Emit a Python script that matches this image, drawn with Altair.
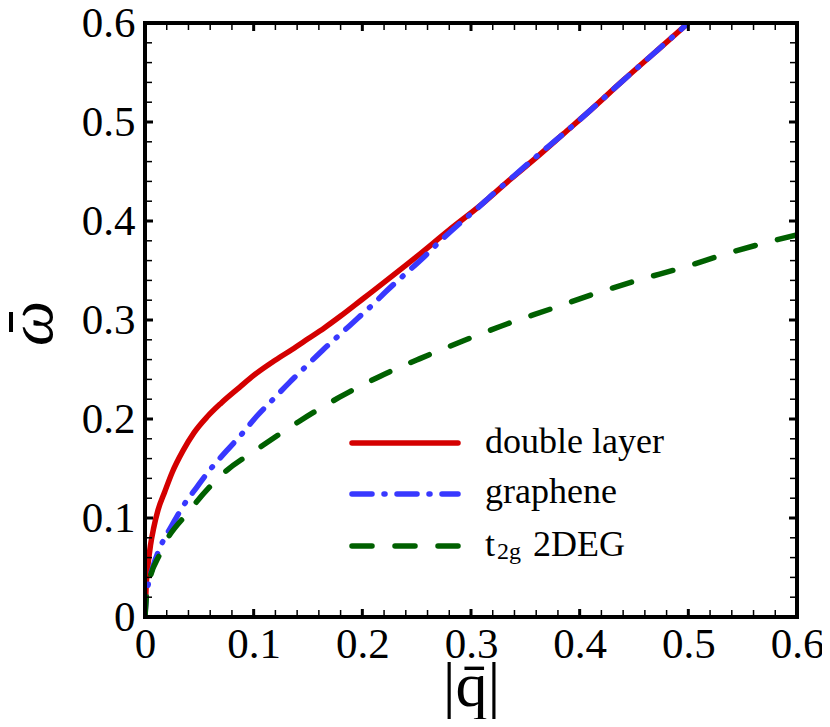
import altair as alt
import pandas as pd

# ---- data ----
red_x = [0, 0.001, 0.003, 0.005, 0.008, 0.012, 0.018, 0.025, 0.035, 0.045, 0.057, 0.07, 0.087, 0.1,
         0.118, 0.135, 0.15, 0.165, 0.18, 0.2, 0.22, 0.25, 0.28, 0.31, 0.335, 0.36, 0.385, 0.41,
         0.44, 0.47, 0.5]
red_y = [0, 0.03, 0.055, 0.072, 0.09, 0.108, 0.126, 0.146, 0.168, 0.186, 0.202, 0.216, 0.232, 0.244,
         0.258, 0.27, 0.281, 0.292, 0.304, 0.321, 0.338, 0.364, 0.391, 0.417, 0.441, 0.464, 0.488,
         0.512, 0.542, 0.571, 0.6]

blue_x = [0, 0.001, 0.003, 0.0077, 0.015, 0.0245, 0.035, 0.0476, 0.06, 0.0752, 0.09, 0.103, 0.118,
          0.133, 0.148, 0.163, 0.18, 0.195, 0.21, 0.222, 0.24, 0.256, 0.272, 0.288, 0.305, 0.32,
          0.34, 0.36, 0.385, 0.41, 0.44, 0.47, 0.5]
blue_y = [0, 0.019, 0.033, 0.052, 0.073, 0.092, 0.112, 0.131, 0.149, 0.168, 0.186, 0.203, 0.22,
          0.237, 0.253, 0.269, 0.286, 0.301, 0.316, 0.329, 0.347, 0.363, 0.38, 0.396, 0.412, 0.427,
          0.446, 0.465, 0.488, 0.512, 0.542, 0.571, 0.6]

green_x = [0, 0.001, 0.003, 0.0138, 0.0414, 0.072, 0.104, 0.141, 0.179, 0.216, 0.253, 0.293, 0.333,
           0.373, 0.4125, 0.453, 0.495, 0.535, 0.578, 0.6]
green_y = [0, 0.017, 0.031, 0.064, 0.108, 0.145, 0.17, 0.197, 0.222, 0.243, 0.261, 0.279, 0.296,
           0.311, 0.326, 0.34, 0.353, 0.367, 0.38, 0.386]

major_ticks = [0, 0.1, 0.2, 0.3, 0.4, 0.5, 0.6]
minor_ticks = [round(i * 0.02, 2) for i in range(31) if i % 5 != 0]

legend_labels = ["double layer", "graphene", "t"]
legend_sub = "2g"
legend_tail = "2DEG"

W, H = 652, 594
FONT = "Liberation Serif"
RED, BLUE, GREEN = "#d40000", "#3838ff", "#006000"

xscale = alt.Scale(domain=[0, 0.6], nice=False, zero=False)
yscale = alt.Scale(domain=[0, 0.6], nice=False, zero=False)

x_axis = alt.Axis(values=major_ticks, format="~g", labelFlush=False, labelPadding=6,
                  labelFont=FONT, labelFontSize=43, labelColor="black",
                  ticks=False, domain=False, grid=False,
                  title="|q\u0304|", titleFontSize=64, titleFont=FONT, titleFontWeight="normal",
                  titleColor="black",
                  titleX=W / 2, titleY=88, titleAlign="center", titleBaseline="alphabetic")
y_axis = alt.Axis(values=major_ticks, format="~g", labelFlush=False, labelPadding=10,
                  labelFont=FONT, labelFontSize=43, labelColor="black",
                  ticks=False, domain=False, grid=False,
                  title="\u03c9", titleFontSize=64, titleFont=FONT, titleFontStyle="italic",
                  titleFontWeight="normal", titleColor="black", titleAngle=270, titleX=-113,
                  titleY=300, titleAlign="center", titleBaseline="middle")


def series_df(xs, ys):
    return pd.DataFrame({"x": xs, "y": ys})


base_red = alt.Chart(series_df(red_x, red_y)).mark_line(
    color=RED, strokeWidth=5.5, strokeCap="round", interpolate="monotone", clip=True
).encode(
    x=alt.X("x:Q", scale=xscale, axis=x_axis),
    y=alt.Y("y:Q", scale=yscale, axis=y_axis),
)

blue_line = alt.Chart(series_df(blue_x, blue_y)).mark_line(
    color=BLUE, strokeWidth=5.5, strokeCap="round", strokeDash=[20, 12, 1, 12],
    interpolate="monotone", clip=True
).encode(x="x:Q", y="y:Q")

green_line = alt.Chart(series_df(green_x, green_y)).mark_line(
    color=GREEN, strokeWidth=5.5, strokeCap="round", strokeDash=[20, 23],
    interpolate="monotone", clip=True
).encode(x="x:Q", y="y:Q")

# ---- inward ticks on all four sides ----
majx = pd.DataFrame({"x": major_ticks})
minx = pd.DataFrame({"x": minor_ticks})
majy = pd.DataFrame({"y": major_ticks})
miny = pd.DataFrame({"y": minor_ticks})

tick_layers = []
for d, w, L in [(majx, 3, 8), (minx, 1.5, 7)]:
    tick_layers.append(alt.Chart(d).mark_rule(color="black", strokeWidth=w).encode(
        x="x:Q", y=alt.value(H), y2=alt.value(H - L)))
    tick_layers.append(alt.Chart(d).mark_rule(color="black", strokeWidth=w).encode(
        x="x:Q", y=alt.value(0), y2=alt.value(L)))
for d, w, L in [(majy, 3, 8), (miny, 1.5, 7)]:
    tick_layers.append(alt.Chart(d).mark_rule(color="black", strokeWidth=w).encode(
        y="y:Q", x=alt.value(0), x2=alt.value(L)))
    tick_layers.append(alt.Chart(d).mark_rule(color="black", strokeWidth=w).encode(
        y="y:Q", x=alt.value(W), x2=alt.value(W - L)))

# ---- frame ----
one = pd.DataFrame({"k": [0]})
frame = [
    alt.Chart(one).mark_rule(color="black", strokeWidth=4, strokeCap="square").encode(
        x=alt.value(0), x2=alt.value(W), y=alt.value(0)),
    alt.Chart(one).mark_rule(color="black", strokeWidth=4, strokeCap="square").encode(
        x=alt.value(0), x2=alt.value(W), y=alt.value(H)),
    alt.Chart(one).mark_rule(color="black", strokeWidth=4, strokeCap="square").encode(
        y=alt.value(0), y2=alt.value(H), x=alt.value(0)),
    alt.Chart(one).mark_rule(color="black", strokeWidth=4, strokeCap="square").encode(
        y=alt.value(0), y2=alt.value(H), x=alt.value(W)),
]

# macron over the rotated omega (the bar of the axis title)
omega_bar = alt.Chart(one).mark_rule(color="black", strokeWidth=4).encode(
    x=alt.value(-134), y=alt.value(289), y2=alt.value(309))

# ---- legend drawn by hand ----
leg = []
for col, dash, yy in [(RED, None, 420), (BLUE, [20, 12, 1, 12], 471), (GREEN, [20, 23], 523)]:
    kw = dict(color=col, strokeWidth=5.5, strokeCap="round")
    if dash:
        kw["strokeDash"] = dash
    leg.append(alt.Chart(one).mark_rule(**kw).encode(
        x=alt.value(207), x2=alt.value(313), y=alt.value(yy)))

for txt, yy, xx, fs in [(legend_labels[0], 430, 340, 36), (legend_labels[1], 480, 340, 36),
                        (legend_labels[2], 533, 340, 36), (legend_sub, 536, 352, 24),
                        (legend_tail, 533, 388, 36)]:
    leg.append(alt.Chart(pd.DataFrame({"t": [txt]})).mark_text(
        font=FONT, fontSize=fs, align="left", baseline="alphabetic", color="black"
    ).encode(x=alt.value(xx), y=alt.value(yy), text="t:N"))

chart = alt.layer(base_red, blue_line, green_line, *tick_layers, *frame, omega_bar, *leg).properties(
    width=W, height=H,
    autosize=alt.AutoSizeParams(type="none"),
    padding={"left": 137, "top": 15, "right": 25, "bottom": 102},
).configure_view(
    stroke=None
).configure(background="white")

chart.save("out.html", embed_options={"renderer": "svg", "actions": False})
